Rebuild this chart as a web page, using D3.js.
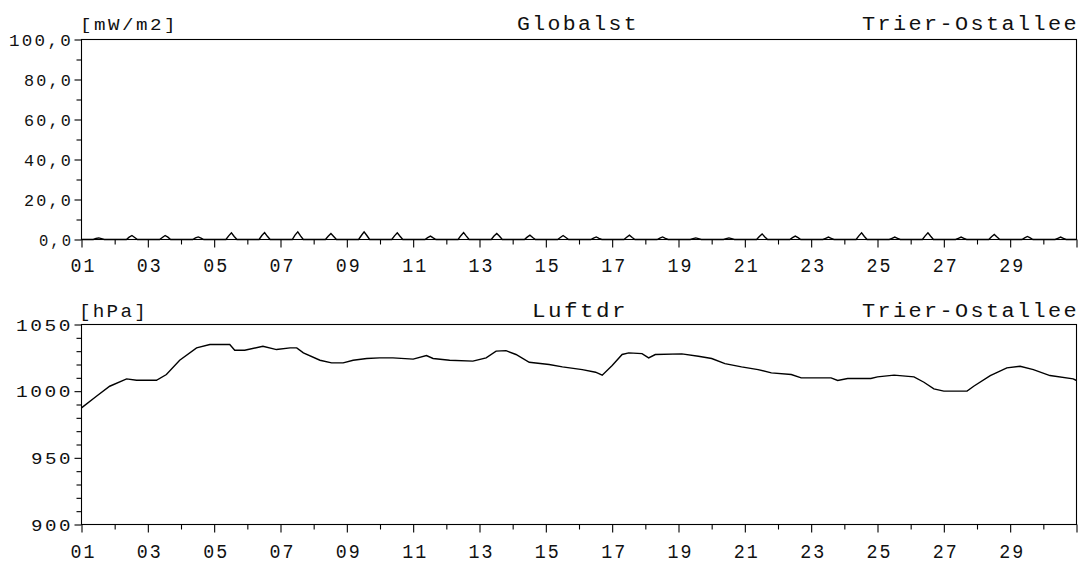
<!DOCTYPE html>
<html><head><meta charset="utf-8">
<script src="https://cdn.jsdelivr.net/npm/d3@7"></script>
<style>
html,body{margin:0;padding:0;background:#fff;}
svg{display:block;}
text{font-family:"Liberation Mono","DejaVu Sans Mono",monospace;fill:#111;}
</style></head>
<body><svg id="chart" width="1085" height="566"></svg>
<script>
// ---- data ----
const days = d3.range(1, 32);                       // day ticks 01..31
const xTickLabels = ["01","03","05","07","09","11","13","15","17","19","21","23","25","27","29"];

// Top panel: Globalst [mW/m2] – daily midday bumps
const globalstDays = [1,2,3,4,5,6,7,8,9,10,11,12,13,14,15,16,17,18,19,20,21,22,23,24,25,26,27,28,29,30];
const globalstHours = [0, 8.5, 10.5, 12.5, 14.5, 16.5, 24];
const globalstValues = [
  [0,0,0.5,0.8,0.4,0,0],[0,0,1.2,2.0,1.0,0,0],[0,0,1.0,2.0,1.2,0,0],[0,0,0.8,1.3,0.7,0,0],
  [0,0,1.8,3.3,1.5,0,0],[0,0,2.0,3.5,1.6,0,0],[0,0,2.2,3.8,1.8,0,0],[0,0,1.6,3.0,1.5,0,0],
  [0,0,2.0,3.8,2.0,0,0],[0,0,1.8,3.3,1.6,0,0],[0,0,0.9,1.7,0.8,0,0],[0,0,1.9,3.5,1.7,0,0],
  [0,0,1.7,3.0,1.6,0,0],[0,0,1.2,2.2,1.0,0,0],[0,0,1.0,2.0,1.0,0,0],[0,0,0.7,1.3,0.6,0,0],
  [0,0,1.1,2.2,1.0,0,0],[0,0,0.7,1.3,0.6,0,0],[0,0,0.4,0.8,0.4,0,0],[0,0,0.4,0.8,0.4,0,0],
  [0,0,1.5,2.8,1.3,0,0],[0,0,0.9,1.7,0.9,0,0],[0,0,0.6,1.2,0.6,0,0],[0,0,1.8,3.3,1.5,0,0],
  [0,0,0.6,1.2,0.6,0,0],[0,0,1.8,3.3,1.6,0,0],[0,0,0.6,1.2,0.6,0,0],[0,0,1.4,2.5,1.2,0,0],
  [0,0,0.8,1.5,0.8,0,0],[0,0,0.6,1.2,0.6,0,0]
];
const topMajorTicks = [0,20,40,60,80,100];
const topTickLabels = ["0,0","20,0","40,0","60,0","80,0","100,0"];
const topMinorTicks = [10,30,50,70,90];

// Bottom panel: Luftdr [hPa]
const pressureDay = [1.0,1.45,1.85,2.36,2.66,3.26,3.56,3.96,4.47,4.87,5.47,5.62,5.92,6.47,6.88,7.29,7.49,7.69,8.19,8.54,8.89,9.19,9.6,9.99,10.2,10.39,11.0,11.4,11.6,12.1,12.8,13.2,13.5,13.8,14.1,14.5,15.1,15.5,16.1,16.5,16.7,17.0,17.3,17.5,17.9,18.1,18.3,19.1,19.6,20.0,20.4,20.9,21.4,21.8,22.4,22.7,23.6,23.8,24.1,24.8,25.0,25.5,26.1,26.4,26.7,27.0,27.7,27.9,28.4,28.9,29.3,29.7,30.2,30.9,31.0];
const pressureHPa = [987.5,996.2,1003.7,1009.2,1008.2,1008.2,1012.5,1023.2,1032.5,1035.0,1035.0,1030.7,1030.7,1033.7,1031.2,1032.5,1032.5,1028.7,1023.2,1021.2,1021.2,1023.2,1024.5,1025.0,1025.0,1025.0,1024.0,1026.7,1024.5,1023.2,1022.5,1025.0,1030.0,1030.4,1027.5,1021.7,1020.0,1018.2,1016.2,1014.2,1012.0,1019.2,1027.5,1028.7,1028.2,1025.0,1027.5,1028.0,1026.2,1024.5,1020.7,1018.2,1016.2,1013.7,1012.5,1010.0,1010.0,1008.0,1009.5,1009.5,1010.7,1012.0,1010.7,1006.7,1001.7,1000.0,1000.0,1003.7,1011.7,1017.5,1018.7,1016.2,1011.7,1009.2,1008.0];
const botMajorTicks = [900,950,1000,1050];
const botTickLabels = ["900","950","1000","1050"];
const botMinorTicks = [910,920,930,940,960,970,980,990,1010,1020,1030,1040];

// ---- drawing ----
const svg = d3.select("#chart");
const X0 = 81.5, X1 = 1076.5;
const x = d3.scaleLinear().domain([1, 31]).range([X0, X1]);

// ink width of a label in the plotter font (wide spacing, narrow comma)
function inkWidth(s, adv) {
  let w = 0;
  for (let i = 0; i < s.length - 1; i++) w += (s[i] === "," ? 7 : adv);
  return w + 10;
}
function fit(sel, ink) {
  sel.attr("text-anchor", "start").style("letter-spacing", "2.2px")
     .attr("textLength", ink + 2).attr("lengthAdjust", "spacingAndGlyphs");
}

function panel(cfg) {
  const g = svg.append("g");
  const y = d3.scaleLinear().domain(cfg.domain).range([cfg.bottom, cfg.top]);
  g.append("rect").attr("x", X0).attr("y", cfg.top).attr("width", X1 - X0).attr("height", cfg.bottom - cfg.top)
    .attr("fill", "none").attr("stroke", "#000").attr("stroke-width", 1.1);
  // y axis
  const yMajor = d3.axisLeft(y).tickValues(cfg.major).tickSize(7).tickPadding(2)
    .tickFormat((d, i) => cfg.labels[i]);
  const ya = g.append("g").attr("transform", `translate(${X0},0)`).call(yMajor);
  const yMinor = d3.axisLeft(y).tickValues(cfg.minor).tickSize(5).tickFormat("");
  const ym = g.append("g").attr("transform", `translate(${X0},0)`).call(yMinor);
  [ya, ym].forEach(a => { a.select(".domain").remove(); a.selectAll("line").attr("stroke", "#000").attr("stroke-width", 1.1); });
  ya.selectAll("text").attr("font-family", null).attr("font-size", null).style("font-size", "17px")
    .attr("dy", null).attr("y", 5.7).attr("fill", "#111")
    .each(function(d, i) {
      const ink = inkWidth(cfg.labels[i], 15);
      const t = d3.select(this);
      t.attr("x", -9.5 - ink - 1);
      fit(t, ink);
    });
  // x axis
  const xMajor = d3.axisBottom(x).tickValues(days.filter(d => d % 2 === 1)).tickSize(8)
    .tickFormat(d => { const i = (d - 1) / 2; return i < xTickLabels.length ? xTickLabels[i] : ""; });
  const xa = g.append("g").attr("transform", `translate(0,${cfg.bottom})`).call(xMajor);
  const xMinor = d3.axisBottom(x).tickValues(days.filter(d => d % 2 === 0)).tickSize(5).tickFormat("");
  const xm = g.append("g").attr("transform", `translate(0,${cfg.bottom})`).call(xMinor);
  [xa, xm].forEach(a => { a.select(".domain").remove(); a.selectAll("line").attr("stroke", "#000").attr("stroke-width", 1.1); });
  xa.selectAll("text").attr("font-family", null).attr("font-size", null).style("font-size", "20px")
    .attr("y", cfg.xLabelY).attr("dy", 0).attr("fill", "#111")
    .each(function() {
      const t = d3.select(this);
      const s = t.text();
      if (!s) return;
      const ink = inkWidth(s, 14);
      t.attr("x", -ink / 2 + 0.5);
      fit(t, ink);
    });
  // titles
  const tb = cfg.titleY;
  fit(g.append("text").attr("x", cfg.unitX).attr("y", tb).style("font-size", cfg.unitSize).text(cfg.unit), cfg.unitLen);
  fit(g.append("text").attr("x", cfg.nameX).attr("y", tb).style("font-size", "20px").text(cfg.name), cfg.nameLen);
  fit(g.append("text").attr("x", 862).attr("y", tb).style("font-size", "20px").text("Trier-Ostallee"), 215);
  return y;
}

const yTop = panel({domain: [0, 100], top: 39.5, bottom: 239.5, major: topMajorTicks, labels: topTickLabels,
  minor: topMinorTicks, unit: "[mW/m2]", unitX: 80, unitLen: 96, unitSize: "17px", name: "Globalst", nameX: 517, nameLen: 120,
  xLabelY: 32.2, titleY: 29.8});
const yBot = panel({domain: [900, 1050], top: 324.5, bottom: 524.5, major: botMajorTicks, labels: botTickLabels,
  minor: botMinorTicks, unit: "[hPa]", unitX: 79, unitLen: 67, unitSize: "19px", name: "Luftdr", nameX: 532, nameLen: 94,
  xLabelY: 33.8, titleY: 317.3});

// Globalst line
const gPts = [];
globalstDays.forEach((d, i) => globalstHours.forEach((h, j) => gPts.push([d + h / 24, globalstValues[i][j]])));
svg.append("path").datum(gPts).attr("fill", "none").attr("stroke", "#000").attr("stroke-width", 1.4)
  .attr("d", d3.line().x(p => x(p[0])).y(p => yTop(p[1])));

// Pressure line
svg.append("path").datum(pressureDay.map((d, i) => [d, pressureHPa[i]]))
  .attr("fill", "none").attr("stroke", "#000").attr("stroke-width", 1.4)
  .attr("d", d3.line().x(p => x(p[0])).y(p => yBot(p[1])));
</script></body></html>
